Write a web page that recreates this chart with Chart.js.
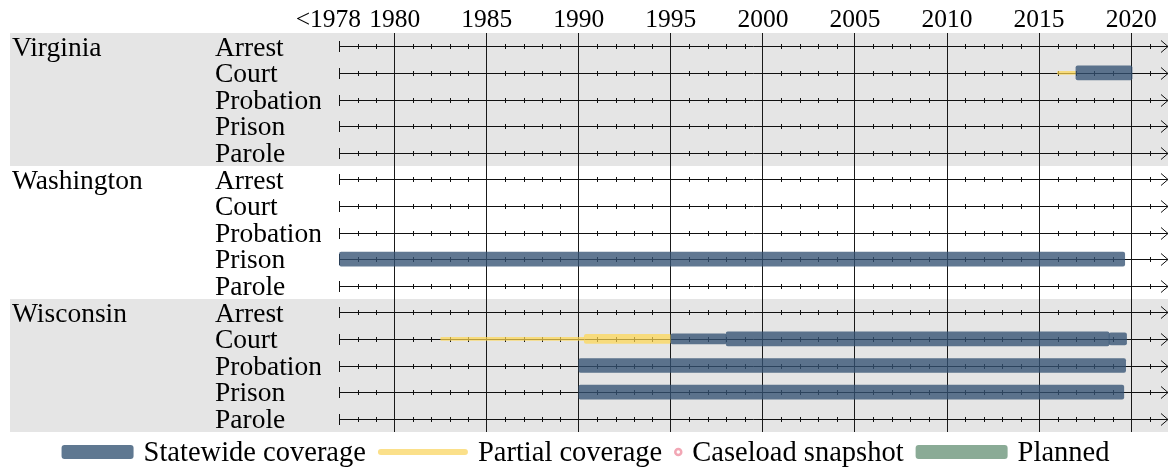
<!DOCTYPE html>
<html>
<head>
<meta charset="utf-8">
<script src="https://cdn.jsdelivr.net/npm/chart.js@4.4.0/dist/chart.umd.min.js"></script>
<style>
	html, body { margin: 0; padding: 0; background: #fff; }
	#wrap { width: 1175px; height: 470px; }
</style>
</head>
<body>
<div id="wrap"><canvas id="coverage-chart"></canvas></div>
<script>
( function() {
	'use strict';

	var states = ['Virginia', 'Washington', 'Wisconsin'];
	var stages = ['Arrest', 'Court', 'Probation', 'Prison', 'Parole'];

	var yearMin = 1976;
	var yearMax = 2022;
	var axisStart = 1977;
	var yearTicks = [1976.4, 1980, 1985, 1990, 1995, 2000, 2005, 2010, 2015, 2020];
	var yearTickLabels = ['<1978', '1980', '1985', '1990', '1995', '2000', '2005', '2010', '2015', '2020'];

	// [state, stage, from, to]
	var statewide = [
		['Virginia', 'Court', 2017, 2020.05],
		['Washington', 'Prison', 1977, 2019.65],
		['Wisconsin', 'Court', 1998, 2018.8],
		['Wisconsin', 'Probation', 1990, 2019.7],
		['Wisconsin', 'Prison', 1990, 2019.6]
	];
	var statewideNarrow = [['Wisconsin', 'Court', 2018.8, 2019.75]];
	var statewideThin = [['Wisconsin', 'Court', 1995, 1998]];
	var partialWide = [['Wisconsin', 'Court', 1990.3, 1995]];
	var partialThin = [
		['Virginia', 'Court', 2016, 2017],
		['Wisconsin', 'Court', 1982.5, 1990.3]
	];

	var legendLabels = ['Statewide coverage', 'Partial coverage', 'Caseload snapshot', 'Planned'];

	var colStatewide = 'rgba(52,82,115,0.78)';
	var colStatewideSolid = '#5f7891';
	var colPartial = 'rgba(255,215,80,0.7)';
	var colPartialSolid = '#fbe08a';
	var colSnapshot = '#f2a7b5';
	var colPlanned = '#8aab96';
	var FONT = "'Liberation Serif', 'DejaVu Serif', serif";

	var rows = [];
	states.forEach(function(s) {
		stages.forEach(function(t) {
			rows.push(s + ' / ' + t);
		});
	});

	function toBars(list) {
		return list.map(function(r) {
			return { x: [r[2], r[3]], y: r[0] + ' / ' + r[1] };
		});
	}

	function barSet(label, list, color, thickness) {
		return {
			label: label,
			data: toBars(list),
			backgroundColor: color,
			borderWidth: 0,
			borderSkipped: false,
			borderRadius: thickness > 5 ? 2 : 1,
			barThickness: thickness,
			grouped: false,
			xAxisID: 'x',
			yAxisID: 'yStage'
		};
	}

	/**
	 * Faixas cinzas por estado
	 */
	var rowBands = {
		id: 'rowBands',
		beforeDraw: function(chart) {
			var ctx = chart.ctx;
			var y = chart.scales.yStage;
			var half = (y.getPixelForValue(1) - y.getPixelForValue(0)) / 2;
			ctx.save();
			ctx.fillStyle = '#e5e5e5';
			states.forEach(function(s, i) {
				if (i % 2 !== 0) return;
				var top = y.getPixelForValue(i * stages.length) - half;
				var bottom = y.getPixelForValue((i + 1) * stages.length - 1) + half;
				ctx.fillRect(10, top, chart.chartArea.right - 10, bottom - top);
			});
			ctx.restore();
		}
	};

	/**
	 * Eixo de tempo em cada linha
	 */
	var rowAxes = {
		id: 'rowAxes',
		beforeDatasetsDraw: function(chart) {
			var ctx = chart.ctx;
			var x = chart.scales.x;
			var y = chart.scales.yStage;
			var x0 = x.getPixelForValue(axisStart);
			var x1 = x.getPixelForValue(yearMax);
			ctx.save();
			ctx.strokeStyle = '#111';
			ctx.lineWidth = 1;
			rows.forEach(function(r, i) {
				var py = Math.round(y.getPixelForValue(i)) + 0.5;
				ctx.beginPath();
				ctx.moveTo(x0, py);
				ctx.lineTo(x1, py);
				ctx.moveTo(Math.round(x0) + 0.5, py - 5.5);
				ctx.lineTo(Math.round(x0) + 0.5, py + 5.5);
				for (var yr = axisStart + 1; yr < yearMax; yr++) {
					if (yr % 5 === 0) continue;
					var px = Math.round(x.getPixelForValue(yr)) + 0.5;
					ctx.moveTo(px, py - 2.5);
					ctx.lineTo(px, py + 2.5);
				}
				ctx.moveTo(x1 - 7, py - 6);
				ctx.lineTo(x1, py);
				ctx.lineTo(x1 - 7, py + 6);
				ctx.stroke();
			});
			ctx.restore();
		}
	};

	/**
	 * Legenda
	 */
	var legendRow = {
		id: 'legendRow',
		afterDraw: function(chart) {
			var ctx = chart.ctx;
			var swatches = [
				{ w: 72, draw: function(px, py) { roundRect(ctx, px, py - 7, 72, 14, 3, colStatewideSolid); } },
				{ w: 90, draw: function(px, py) { roundRect(ctx, px, py - 3, 90, 6, 3, colPartialSolid); } },
				{ w: 8, draw: function(px, py) {
					ctx.beginPath();
					ctx.arc(px + 4, py, 3, 0, Math.PI * 2);
					ctx.lineWidth = 2.5;
					ctx.strokeStyle = colSnapshot;
					ctx.stroke();
				} },
				{ w: 92, draw: function(px, py) { roundRect(ctx, px, py - 7, 92, 14, 3, colPlanned); } }
			];
			ctx.save();
			ctx.font = '28.5px ' + FONT;
			ctx.textBaseline = 'middle';
			ctx.fillStyle = '#000';
			var total = 0;
			legendLabels.forEach(function(l, i) {
				total += swatches[i].w + 10 + ctx.measureText(l).width + (i < legendLabels.length - 1 ? 12 : 0);
			});
			var px = (chart.width - total) / 2 - 2;
			var py = 452;
			legendLabels.forEach(function(l, i) {
				swatches[i].draw(px, py);
				px += swatches[i].w + 10;
				ctx.fillStyle = '#000';
				ctx.fillText(l, px, py + 2);
				px += ctx.measureText(l).width + 12;
			});
			ctx.restore();
		}
	};

	function roundRect(ctx, x, y, w, h, r, color) {
		ctx.beginPath();
		ctx.roundRect(x, y, w, h, r);
		ctx.fillStyle = color;
		ctx.fill();
	}

	Chart.defaults.font.family = FONT;
	Chart.defaults.color = '#000';

	var ctx = document.getElementById('coverage-chart');
	var chart = new Chart(ctx, {
		type: 'bar',
		data: {
			labels: rows,
			datasets: [
				barSet(legendLabels[0], statewide, colStatewide, 14),
				barSet(legendLabels[0], statewideNarrow, colStatewide, 12),
				barSet(legendLabels[0], statewideThin, colStatewide, 10),
				barSet(legendLabels[1], partialWide, colPartial, 9),
				barSet(legendLabels[1], partialThin, colPartial, 3)
			]
		},
		options: {
			indexAxis: 'y',
			responsive: true,
			maintainAspectRatio: false,
			animation: false,
			layout: { padding: { left: 12, right: 7, top: 0, bottom: 38 } },
			plugins: {
				legend: { display: false },
				tooltip: { enabled: false }
			},
			scales: {
				x: {
					type: 'linear',
					position: 'top',
					min: yearMin,
					max: yearMax,
					afterBuildTicks: function(scale) {
						scale.ticks = yearTicks.map(function(v) { return { value: v }; });
					},
					afterFit: function(scale) { scale.height = 33; },
					ticks: {
						autoSkip: false,
						maxRotation: 0,
						padding: -3,
						font: { size: 25.5 },
						callback: function(value) {
							return yearTickLabels[yearTicks.indexOf(value)];
						}
					},
					grid: {
						drawTicks: false,
						lineWidth: 1,
						color: function(c) {
							return c.tick && c.tick.value < axisStart ? 'rgba(0,0,0,0)' : '#1a1a1a';
						}
					},
					border: { display: false }
				},
				yStage: {
					type: 'category',
					position: 'left',
					labels: rows,
					offset: true,
					weight: 0,
					afterFit: function(scale) { scale.width = 106; },
					ticks: {
						autoSkip: false,
						crossAlign: 'far',
						padding: 0,
						labelOffset: 2,
						font: { size: 27.5 },
						callback: function(value, index) {
							return stages[index % stages.length];
						}
					},
					grid: { display: false, drawTicks: false },
					border: { display: false }
				},
				yState: {
					type: 'category',
					position: 'left',
					labels: rows,
					offset: true,
					weight: 1,
					afterFit: function(scale) { scale.width = 203; },
					ticks: {
						autoSkip: false,
						crossAlign: 'far',
						padding: 0,
						labelOffset: 2,
						font: { size: 27.5 },
						callback: function(value, index) {
							return index % stages.length === 0 ? states[index / stages.length] : '';
						}
					},
					grid: { display: false, drawTicks: false },
					border: { display: false }
				}
			}
		},
		plugins: [rowBands, rowAxes, legendRow]
	});
})();
</script>
</body>
</html>
